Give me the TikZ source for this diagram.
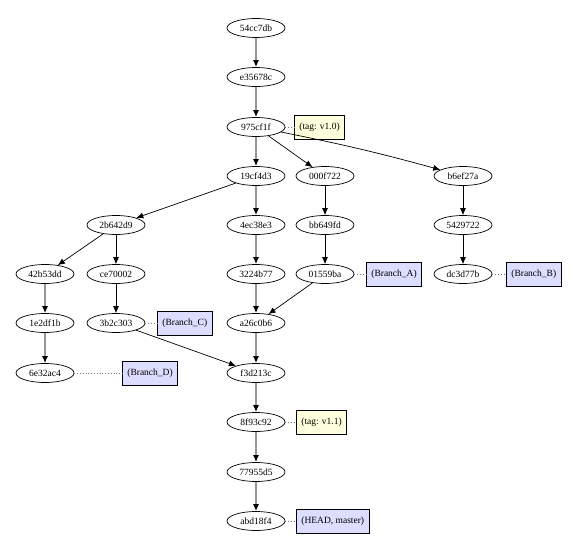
\documentclass[tikz,border=0pt]{standalone}
\usepackage{fontspec}
\setmainfont{Liberation Serif}
\usetikzlibrary{shapes.geometric,arrows.meta}

\begin{document}
\begin{tikzpicture}[x=1pt,y=-1pt]
\tikzstyle{commit}=[ellipse, draw=black, line width=0.7pt, minimum width=58pt, minimum height=19pt, inner sep=0pt, font=\fontsize{9.5}{11}\selectfont]
\tikzstyle{mainline}=[draw={rgb,255:red,150;green,150;blue,150}, -{Latex[black,length=7pt,width=6pt]}, line width=2.2pt]
\tikzstyle{connect}=[-{Latex[length=7pt,width=6pt]}, line width=0.7pt]
\tikzstyle{reflink}=[dotted, draw=black!55, line width=0.8pt]
\tikzstyle{tagbox}=[rectangle, draw=black, line width=0.7pt, fill={rgb,255:red,255;green,255;blue,221}, minimum height=24pt, inner xsep=5pt, anchor=west, font=\fontsize{9.5}{11}\selectfont]
\tikzstyle{branchbox}=[tagbox, fill={rgb,255:red,221;green,221;blue,255}]

\useasboundingbox (0,0) rectangle (574,546);

% commits
\node[commit] at (256,28) (c54cc) {54cc7db};
\node[commit] at (256,77) (ce356) {e35678c};
\node[commit] at (256,127) (c975c) {975cf1f};
\node[commit] at (256,176) (c19cf) {19cf4d3};
\node[commit] at (325,176) (c000f) {000f722};
\node[commit] at (463,176) (cb6ef) {b6ef27a};
\node[commit] at (116,225) (c2b64) {2b642d9};
\node[commit] at (256,225) (c4ec3) {4ec38e3};
\node[commit] at (325,225) (cbb64) {bb649fd};
\node[commit] at (463,225) (c5429) {5429722};
\node[commit] at (45,274) (c42b5) {42b53dd};
\node[commit] at (116,274) (cce70) {ce70002};
\node[commit] at (256,274) (c3224) {3224b77};
\node[commit] at (325,274) (c0155) {01559ba};
\node[commit] at (463,274) (cdc3d) {dc3d77b};
\node[commit] at (45,323) (c1e2d) {1e2df1b};
\node[commit] at (116,323) (c3b2c) {3b2c303};
\node[commit] at (256,323) (ca26c) {a26c0b6};
\node[commit] at (45,373) (c6e32) {6e32ac4};
\node[commit] at (256,373) (cf3d2) {f3d213c};
\node[commit] at (256,422) (c8f93) {8f93c92};
\node[commit] at (256,472) (c7795) {77955d5};
\node[commit] at (256,521) (cabd1) {abd18f4};

% refs
\node[tagbox] at (294,127) (tag10) {(tag: v1.0)};
\node[branchbox] at (366,274) (brA) {(Branch\_A)};
\node[branchbox] at (506,274) (brB) {(Branch\_B)};
\node[branchbox] at (157,323) (brC) {(Branch\_C)};
\node[branchbox] at (122,373) (brD) {(Branch\_D)};
\node[tagbox] at (296,422) (tag11) {(tag: v1.1)};
\node[branchbox] at (296,521) (head) {(HEAD, master)};

% history
\draw[mainline] (c54cc) -- (ce356);
\draw[mainline] (ce356) -- (c975c);
\draw[mainline] (c975c) -- (c19cf);
\draw[mainline] (c19cf) -- (c4ec3);
\draw[mainline] (c4ec3) -- (c3224);
\draw[mainline] (c3224) -- (ca26c);
\draw[mainline] (ca26c) -- (cf3d2);
\draw[mainline] (cf3d2) -- (c8f93);
\draw[mainline] (c8f93) -- (c7795);
\draw[mainline] (c7795) -- (cabd1);
\draw[mainline] (c42b5) -- (c1e2d);
\draw[mainline] (c1e2d) -- (c6e32);

\path (c975c) edge [connect] (c000f);
\path (c975c) edge [connect, bend left=2] (cb6ef);
\path (c19cf) edge [connect] (c2b64);
\path (c2b64) edge [connect] (c42b5);
\path (c2b64) edge [connect] (cce70);
\path (cce70) edge [connect] (c3b2c);
\path (c000f) edge [connect] (cbb64);
\path (cbb64) edge [connect] (c0155);
\path (cb6ef) edge [connect] (c5429);
\path (c5429) edge [connect] (cdc3d);
\path (c0155) edge [connect] (ca26c);
\path (c3b2c) edge [connect] (cf3d2);

\path (c975c) edge [reflink] (tag10);
\path (c0155) edge [reflink] (brA);
\path (cdc3d) edge [reflink] (brB);
\path (c3b2c) edge [reflink] (brC);
\path (c6e32) edge [reflink] (brD);
\path (c8f93) edge [reflink] (tag11);
\path (cabd1) edge [reflink] (head);
\end{tikzpicture}
\end{document}
